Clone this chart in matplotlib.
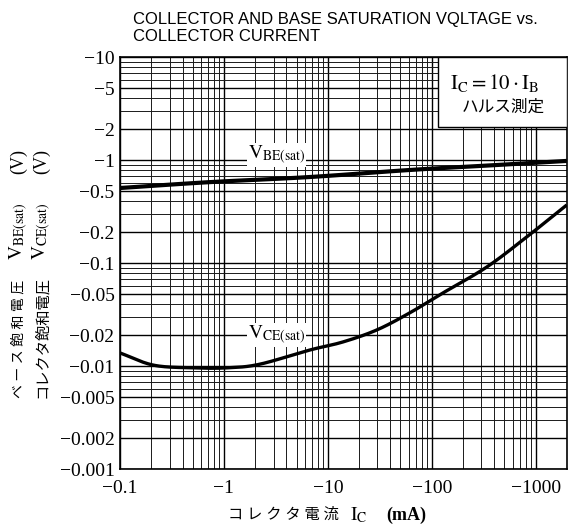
import numpy as np
import matplotlib
matplotlib.use('Agg')
import matplotlib.pyplot as plt
from matplotlib.ticker import FixedLocator, FixedFormatter, NullFormatter, LogLocator
from matplotlib.patches import Rectangle

plt.rcParams['mathtext.fontset'] = 'stix'

# Data (magnitudes; the device is PNP, so labels carry a minus sign)
ic_vbe = [0.1, 0.73, 6.7, 61, 386, 1990]          # mA
vbe = [0.535, 0.61, 0.684, 0.80, 0.89, 0.98]        # V

ic_vce = [0.1, 0.21, 0.5, 1.07, 2.2, 6.7, 13.9, 29.6, 61, 128, 338, 819, 1990]
vce = [0.0134, 0.0102, 0.0096, 0.0096, 0.0104, 0.0143, 0.0171, 0.0224,
       0.0327, 0.0512, 0.0914, 0.179, 0.366]

x_ticks = [0.1, 1, 10, 100, 1000]
x_labels = ['\u22120.1', '\u22121', '\u221210', '\u2212100', '\u22121000']
y_ticks = [10, 5, 2, 1, 0.5, 0.2, 0.1, 0.05, 0.02, 0.01, 0.005, 0.002, 0.001]
y_labels = ['\u221210', '\u22125', '\u22122', '\u22121', '\u22120.5', '\u22120.2',
            '\u22120.1', '\u22120.05', '\u22120.02', '\u22120.01', '\u22120.005',
            '\u22120.002', '\u22120.001']

serif = ['Liberation Serif', 'Noto Sans CJK JP']


def smooth(x, y):
    # Catmull-Rom through the read points, in log-log space
    pts = np.column_stack([np.log10(x), np.log10(y)])
    p = np.vstack([2 * pts[0] - pts[1], pts, 2 * pts[-1] - pts[-2]])
    out = []
    for i in range(1, len(p) - 2):
        for t in np.linspace(0, 1, 20, endpoint=False):
            t2, t3 = t * t, t * t * t
            v = 0.5 * ((2 * p[i]) + (-p[i - 1] + p[i + 1]) * t +
                       (2 * p[i - 1] - 5 * p[i] + 4 * p[i + 1] - p[i + 2]) * t2 +
                       (-p[i - 1] + 3 * p[i] - 3 * p[i + 1] + p[i + 2]) * t3)
            out.append(v)
    out.append(pts[-1])
    out = np.array(out)
    return 10 ** out[:, 0], 10 ** out[:, 1]


def main():
    fig = plt.figure(figsize=(5.73, 5.28), dpi=100)
    ax = fig.add_axes([0.2094, 0.1117, 0.7801, 0.7803])

    ax.set_xscale('log')
    ax.set_yscale('log')
    ax.set_xlim(0.1, 2000)
    ax.set_ylim(0.001, 10)

    ax.xaxis.set_major_locator(FixedLocator(x_ticks))
    ax.xaxis.set_major_formatter(FixedFormatter(x_labels))
    ax.yaxis.set_major_locator(FixedLocator(y_ticks))
    ax.yaxis.set_major_formatter(FixedFormatter(y_labels))
    ax.xaxis.set_minor_locator(LogLocator(base=10, subs=np.arange(2, 10)))
    ax.yaxis.set_minor_locator(LogLocator(base=10, subs=np.arange(2, 10)))
    ax.xaxis.set_minor_formatter(NullFormatter())
    ax.yaxis.set_minor_formatter(NullFormatter())

    ax.grid(True, which='major', color='black', lw=1.0)
    ax.grid(True, which='minor', color='0.1', lw=0.7)
    ax.tick_params(which='both', length=0)
    ax.tick_params(axis='x', pad=8)
    ax.tick_params(axis='y', pad=4)
    for lab in ax.get_xticklabels() + ax.get_yticklabels():
        lab.set_family(serif)
        lab.set_fontsize(14)
    for sp in ax.spines.values():
        sp.set_linewidth(1.2)

    xb, yb = smooth(ic_vbe, vbe)
    ax.plot(xb, yb, color='black', lw=3.0, solid_capstyle='butt')
    xc, yc = smooth(ic_vce, vce)
    ax.plot(xc, yc, color='black', lw=2.4, solid_capstyle='butt')

    ax.text(3.2, 1.12, r'$\mathrm{V_{BE(sat)}}$', fontsize=14, ha='center', va='center',
            bbox=dict(facecolor='white', edgecolor='none', pad=0.5))
    ax.text(3.2, 0.020, r'$\mathrm{V_{CE(sat)}}$', fontsize=14, ha='center', va='center',
            bbox=dict(facecolor='white', edgecolor='none', pad=0.5))

    # condition box in the upper right
    ax.add_patch(Rectangle((0.711, 0.83), 0.289, 0.17, transform=ax.transAxes,
                           facecolor='white', edgecolor='black', lw=1.0, zorder=3))
    ax.text(0.839, 0.937, r'$\mathrm{I_C = 10\cdot I_B}$', transform=ax.transAxes,
            fontsize=15, ha='center', va='center', zorder=4)
    ax.text(0.857, 0.876, 'ハルス測定', transform=ax.transAxes, family=serif,
            fontsize=12, ha='center', va='center', zorder=4)

    fig.text(0.232, 0.977, 'COLLECTOR AND BASE SATURATION VQLTAGE vs.\nCOLLECTOR CURRENT',
             family='Liberation Sans', fontsize=12, ha='left', va='top', linespacing=1.15)

    # x axis title, pieced together so the CJK part keeps its font
    yx = 1 - 515 / 528
    fig.text(228 / 573, yx, ' '.join('コレクタ電流'), family=serif, fontsize=11,
             ha='left', va='center')
    fig.text(350 / 573, yx, r'$\mathrm{I_C}$', fontsize=14, ha='left', va='center')
    fig.text(386 / 573, yx, '(mA)', family=serif, fontsize=13, fontweight='bold',
             ha='left', va='center')

    # y axis titles (two rotated lines)
    for xf, jp, fs, sym in [(19 / 573, ' '.join('ベース飽和電圧'), 10, r'$\mathrm{V_{BE(sat)}}$'),
                            (42 / 573, 'コレクタ飽和電圧', 11, r'$\mathrm{V_{CE(sat)}}$')]:
        fig.text(xf, 1 - 398 / 528, jp, family=serif, fontsize=fs, rotation=90,
                 ha='center', va='bottom')
        fig.text(xf, 1 - 231 / 528, sym, fontsize=14, rotation=90,
                 ha='center', va='center')
        fig.text(xf, 1 - 161 / 528, '(V)', family=serif, fontsize=13, rotation=90,
                 ha='center', va='center')

    fig.savefig('out.png', dpi=100)


if __name__ == '__main__':
    main()
